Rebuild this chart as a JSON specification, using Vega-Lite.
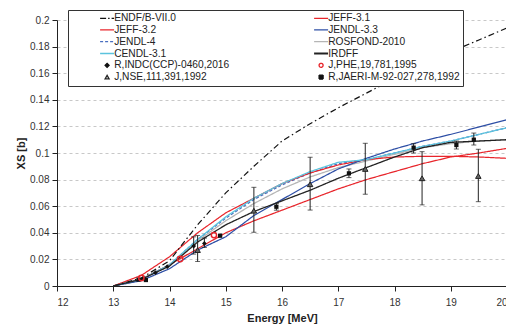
{
  "$schema": "https://vega.github.io/schema/vega-lite/v6.json",
  "width": 450,
  "height": 266,
  "autosize": {"type": "none"},
  "padding": {"left": 57, "top": 20, "right": 0, "bottom": 43},
  "config": {
    "font": "Liberation Sans",
    "view": {"stroke": null},
    "axis": {"domainColor": "#222", "tickColor": "#222", "labelColor": "#333", "labelFontSize": 10, "titleFontSize": 11, "titleFontWeight": "bold", "titleColor": "#222", "tickSize": 5, "labelOverlap": false},
    "axisY": {"values": [0,0.02,0.04,0.06,0.08,0.1,0.12,0.14,0.16,0.18,0.2], "format": "~g", "grid": true, "gridColor": "#c8c8c8", "gridDash": [3,3], "labelPadding": 3, "titlePadding": 3}
  },
  "datasets": {
    "lines": [
      {"s":"JENDL-4","e":13,"v":0},{"s":"JENDL-4","e":13.5,"v":0.005},{"s":"JENDL-4","e":14,"v":0.016},{"s":"JENDL-4","e":14.5,"v":0.035},{"s":"JENDL-4","e":15,"v":0.051},{"s":"JENDL-4","e":15.5,"v":0.065},{"s":"JENDL-4","e":16,"v":0.076},{"s":"JENDL-4","e":16.5,"v":0.085},{"s":"JENDL-4","e":17,"v":0.092},{"s":"JENDL-4","e":17.5,"v":0.095},{"s":"JENDL-4","e":18,"v":0.1},{"s":"JENDL-4","e":18.5,"v":0.105},{"s":"JENDL-4","e":19,"v":0.109},{"s":"JENDL-4","e":19.5,"v":0.114},{"s":"JENDL-4","e":20,"v":0.119},
      {"s":"ROSFOND-2010","e":13,"v":0},{"s":"ROSFOND-2010","e":13.5,"v":0.005},{"s":"ROSFOND-2010","e":14,"v":0.016},{"s":"ROSFOND-2010","e":14.5,"v":0.034},{"s":"ROSFOND-2010","e":15,"v":0.049},{"s":"ROSFOND-2010","e":15.5,"v":0.062},{"s":"ROSFOND-2010","e":16,"v":0.073},{"s":"ROSFOND-2010","e":16.5,"v":0.082},{"s":"ROSFOND-2010","e":17,"v":0.089},{"s":"ROSFOND-2010","e":17.5,"v":0.094},{"s":"ROSFOND-2010","e":18,"v":0.099},{"s":"ROSFOND-2010","e":18.5,"v":0.104},{"s":"ROSFOND-2010","e":19,"v":0.107},{"s":"ROSFOND-2010","e":19.5,"v":0.109},{"s":"ROSFOND-2010","e":20,"v":0.11},
      {"s":"JEFF-3.2","e":13,"v":0},{"s":"JEFF-3.2","e":13.5,"v":0.005},{"s":"JEFF-3.2","e":14,"v":0.016},{"s":"JEFF-3.2","e":14.5,"v":0.028},{"s":"JEFF-3.2","e":15,"v":0.04},{"s":"JEFF-3.2","e":15.5,"v":0.049},{"s":"JEFF-3.2","e":16,"v":0.057},{"s":"JEFF-3.2","e":16.5,"v":0.065},{"s":"JEFF-3.2","e":17,"v":0.073},{"s":"JEFF-3.2","e":17.5,"v":0.08},{"s":"JEFF-3.2","e":18,"v":0.086},{"s":"JEFF-3.2","e":18.5,"v":0.092},{"s":"JEFF-3.2","e":19,"v":0.097},{"s":"JEFF-3.2","e":19.5,"v":0.1},{"s":"JEFF-3.2","e":20,"v":0.1035},
      {"s":"JEFF-3.1","e":13,"v":0},{"s":"JEFF-3.1","e":13.5,"v":0.008},{"s":"JEFF-3.1","e":14,"v":0.022},{"s":"JEFF-3.1","e":14.5,"v":0.04},{"s":"JEFF-3.1","e":15,"v":0.055},{"s":"JEFF-3.1","e":15.5,"v":0.066},{"s":"JEFF-3.1","e":16,"v":0.077},{"s":"JEFF-3.1","e":16.5,"v":0.085},{"s":"JEFF-3.1","e":17,"v":0.091},{"s":"JEFF-3.1","e":17.5,"v":0.095},{"s":"JEFF-3.1","e":18,"v":0.097},{"s":"JEFF-3.1","e":18.5,"v":0.0975},{"s":"JEFF-3.1","e":19,"v":0.0975},{"s":"JEFF-3.1","e":19.5,"v":0.097},{"s":"JEFF-3.1","e":20,"v":0.096},
      {"s":"JENDL-3.3","e":13,"v":0},{"s":"JENDL-3.3","e":13.5,"v":0.004},{"s":"JENDL-3.3","e":14,"v":0.013},{"s":"JENDL-3.3","e":14.5,"v":0.027},{"s":"JENDL-3.3","e":15,"v":0.037},{"s":"JENDL-3.3","e":15.5,"v":0.053},{"s":"JENDL-3.3","e":16,"v":0.065},{"s":"JENDL-3.3","e":16.5,"v":0.077},{"s":"JENDL-3.3","e":17,"v":0.088},{"s":"JENDL-3.3","e":17.5,"v":0.096},{"s":"JENDL-3.3","e":18,"v":0.103},{"s":"JENDL-3.3","e":18.5,"v":0.109},{"s":"JENDL-3.3","e":19,"v":0.114},{"s":"JENDL-3.3","e":19.5,"v":0.1195},{"s":"JENDL-3.3","e":20,"v":0.125},
      {"s":"CENDL-3.1","e":13,"v":0},{"s":"CENDL-3.1","e":13.5,"v":0.005},{"s":"CENDL-3.1","e":14,"v":0.016},{"s":"CENDL-3.1","e":14.5,"v":0.035},{"s":"CENDL-3.1","e":15,"v":0.052},{"s":"CENDL-3.1","e":15.5,"v":0.066},{"s":"CENDL-3.1","e":16,"v":0.077},{"s":"CENDL-3.1","e":16.5,"v":0.086},{"s":"CENDL-3.1","e":17,"v":0.093},{"s":"CENDL-3.1","e":17.5,"v":0.095},{"s":"CENDL-3.1","e":18,"v":0.1},{"s":"CENDL-3.1","e":18.5,"v":0.105},{"s":"CENDL-3.1","e":19,"v":0.109},{"s":"CENDL-3.1","e":19.5,"v":0.114},{"s":"CENDL-3.1","e":20,"v":0.119},
      {"s":"ENDF/B-VII.0","e":13,"v":0},{"s":"ENDF/B-VII.0","e":13.5,"v":0.006},{"s":"ENDF/B-VII.0","e":14,"v":0.019},{"s":"ENDF/B-VII.0","e":14.5,"v":0.046},{"s":"ENDF/B-VII.0","e":15,"v":0.07},{"s":"ENDF/B-VII.0","e":15.5,"v":0.09},{"s":"ENDF/B-VII.0","e":16,"v":0.109},{"s":"ENDF/B-VII.0","e":16.5,"v":0.122},{"s":"ENDF/B-VII.0","e":17,"v":0.134},{"s":"ENDF/B-VII.0","e":17.5,"v":0.145},{"s":"ENDF/B-VII.0","e":18,"v":0.156},{"s":"ENDF/B-VII.0","e":18.5,"v":0.166},{"s":"ENDF/B-VII.0","e":19,"v":0.176},{"s":"ENDF/B-VII.0","e":19.5,"v":0.185},{"s":"ENDF/B-VII.0","e":20,"v":0.194},
      {"s":"IRDFF","e":13,"v":0},{"s":"IRDFF","e":13.5,"v":0.005},{"s":"IRDFF","e":14,"v":0.015},{"s":"IRDFF","e":14.5,"v":0.033},{"s":"IRDFF","e":15,"v":0.046},{"s":"IRDFF","e":15.5,"v":0.056},{"s":"IRDFF","e":16,"v":0.064},{"s":"IRDFF","e":16.5,"v":0.072},{"s":"IRDFF","e":17,"v":0.081},{"s":"IRDFF","e":17.5,"v":0.089},{"s":"IRDFF","e":18,"v":0.097},{"s":"IRDFF","e":18.5,"v":0.104},{"s":"IRDFF","e":19,"v":0.108},{"s":"IRDFF","e":19.5,"v":0.109},{"s":"IRDFF","e":20,"v":0.11}
    ],
    "pts": [
      {"s":"INDC","e":13.52,"v":0.0055},{"s":"INDC","e":13.75,"v":0.01},{"s":"INDC","e":13.96,"v":0.0145},{"s":"INDC","e":14.43,"v":0.03,"lo":0.024,"hi":0.037},{"s":"INDC","e":14.62,"v":0.032,"lo":0.029,"hi":0.036},
      {"s":"PHE","e":13.5,"v":0.006},{"s":"PHE","e":14.19,"v":0.0203},{"s":"PHE","e":14.79,"v":0.0383},
      {"s":"NSE","e":14.5,"v":0.027,"lo":0.0184,"hi":0.038},{"s":"NSE","e":15.5,"v":0.0566,"lo":0.0404,"hi":0.0742},{"s":"NSE","e":16.5,"v":0.0765,"lo":0.0571,"hi":0.0968},{"s":"NSE","e":17.48,"v":0.088,"lo":0.069,"hi":0.1073},{"s":"NSE","e":18.49,"v":0.081,"lo":0.061,"hi":0.101},{"s":"NSE","e":19.49,"v":0.0827,"lo":0.0634,"hi":0.1028},
      {"s":"JAERI","e":13.45,"v":0.0048},{"s":"JAERI","e":13.58,"v":0.0045},{"s":"JAERI","e":14.9,"v":0.0378},{"s":"JAERI","e":15.9,"v":0.0596,"lo":0.057,"hi":0.062},{"s":"JAERI","e":17.19,"v":0.0847,"lo":0.0815,"hi":0.088},{"s":"JAERI","e":18.34,"v":0.104,"lo":0.1,"hi":0.107},{"s":"JAERI","e":19.1,"v":0.106,"lo":0.103,"hi":0.109},{"s":"JAERI","e":19.41,"v":0.11,"lo":0.106,"hi":0.115}
    ]
  },
  "layer": [
    {
      "data": {"name": "lines"},
      "mark": {"type": "line", "clip": true},
      "encoding": {
        "x": {"field": "e", "type": "quantitative", "scale": {"domain": [12, 20], "nice": false},
              "axis": {"title": "Energy [MeV]", "values": [12,13,14,15,16,17,18,19,20], "format": "d", "grid": false, "labelOverlap": false, "labelPadding": 6, "titlePadding": 5}},
        "y": {"field": "v", "type": "quantitative", "scale": {"domain": [0, 0.2], "nice": false},
              "axis": {"title": "XS [b]"}},
        "color": {"field": "s", "type": "nominal",
          "scale": {
            "domain": ["ENDF/B-VII.0","JEFF-3.2","JENDL-4","CENDL-3.1","R,INDC(CCP)-0460,2016","J,NSE,111,391,1992","JEFF-3.1","JENDL-3.3","ROSFOND-2010","IRDFF","J,PHE,19,781,1995","R,JAERI-M-92-027,278,1992"],
            "range": ["#111111","#e8252b","#4a6fc0","#5bc3dd","#111111","#222222","#e8252b","#2d4ea5","#b5b5b5","#222222","#e8252b","#111111"]
          },
          "legend": {
            "orient": "none", "legendX": 11, "legendY": -10, "columns": 2, "direction": "vertical",
            "title": " ", "titleOrient": "left", "titlePadding": 31, "titleFontSize": 10,
            "padding": 3, "fillColor": "white", "strokeColor": "#333",
            "symbolSize": 196, "symbolStrokeWidth": 1.3, "labelFontSize": 10.2, "labelColor": "#222", "labelOffset": 2,
            "rowPadding": 0.8, "columnPadding": 80, "labelLimit": 300,
            "labelExpr": "datum.label == 'R,JAERI-M-92-027,278,1992' ? datum.label + '           ' : datum.label",
            "encode": {"symbols": {"update": {
              "shape": {"signal": "{'R,INDC(CCP)-0460,2016':'diamond','J,PHE,19,781,1995':'circle','J,NSE,111,391,1992':'triangle-up','R,JAERI-M-92-027,278,1992':'square'}[datum.value] || 'stroke'"},
              "size": {"signal": "indexof(['R,INDC(CCP)-0460,2016','J,PHE,19,781,1995','J,NSE,111,391,1992','R,JAERI-M-92-027,278,1992'], datum.value) >= 0 ? 16 : 196"},
              "stroke": {"signal": "{'ENDF/B-VII.0':'#111','JEFF-3.1':'#e8252b','JEFF-3.2':'#e8252b','JENDL-3.3':'#2d4ea5','JENDL-4':'#4a6fc0','ROSFOND-2010':'#b5b5b5','CENDL-3.1':'#5bc3dd','IRDFF':'#222','R,INDC(CCP)-0460,2016':'#111','J,PHE,19,781,1995':'#e8252b','J,NSE,111,391,1992':'#222','R,JAERI-M-92-027,278,1992':'#111'}[datum.value]"},
              "fill": {"signal": "datum.value == 'R,INDC(CCP)-0460,2016' || datum.value == 'R,JAERI-M-92-027,278,1992' ? '#111' : 'transparent'"},
              "strokeDash": {"signal": "datum.value == 'ENDF/B-VII.0' ? [6,2,1.5,2] : datum.value == 'JENDL-4' ? [3,2] : [1,0]"},
              "strokeWidth": {"signal": "datum.value == 'IRDFF' ? 2 : 1.3"},
              "opacity": {"value": 1}
            }}}
          }
        },
        "strokeDash": {"field": "s", "type": "nominal", "legend": null,
          "scale": {"domain": ["ENDF/B-VII.0","JEFF-3.1","JEFF-3.2","JENDL-3.3","JENDL-4","ROSFOND-2010","CENDL-3.1","IRDFF"],
                    "range": [[6,3,1.5,3],[1,0],[1,0],[1,0],[3,2],[1,0],[1,0],[1,0]]}},
        "strokeWidth": {"field": "s", "type": "nominal", "legend": null,
          "scale": {"domain": ["ENDF/B-VII.0","JEFF-3.1","JEFF-3.2","JENDL-3.3","JENDL-4","ROSFOND-2010","CENDL-3.1","IRDFF"],
                    "range": [1.2,1.3,1.3,1.3,1.2,1.3,1.3,2]}}
      }
    },
    {
      "data": {"name": "pts"},
      "transform": [{"filter": "isValid(datum.lo)"}],
      "mark": {"type": "rule", "color": "#222", "strokeWidth": 1},
      "encoding": {"x": {"field": "e", "type": "quantitative"}, "y": {"field": "lo", "type": "quantitative"}, "y2": {"field": "hi"}}
    },
    {
      "data": {"name": "pts"},
      "transform": [{"filter": "isValid(datum.lo)"}],
      "mark": {"type": "tick", "orient": "horizontal", "color": "#222", "size": 5, "thickness": 1},
      "encoding": {"x": {"field": "e", "type": "quantitative"}, "y": {"field": "lo", "type": "quantitative"}}
    },
    {
      "data": {"name": "pts"},
      "transform": [{"filter": "isValid(datum.hi)"}],
      "mark": {"type": "tick", "orient": "horizontal", "color": "#222", "size": 5, "thickness": 1},
      "encoding": {"x": {"field": "e", "type": "quantitative"}, "y": {"field": "hi", "type": "quantitative"}}
    },
    {
      "data": {"name": "pts"},
      "transform": [{"filter": "datum.s == 'NSE'"}],
      "mark": {"type": "point", "shape": "triangle-up", "filled": false, "stroke": "#222", "fill": "#666", "fillOpacity": 1, "size": 30, "strokeWidth": 1},
      "encoding": {"x": {"field": "e", "type": "quantitative"}, "y": {"field": "v", "type": "quantitative"}}
    },
    {
      "data": {"name": "pts"},
      "transform": [{"filter": "datum.s == 'JAERI'"}],
      "mark": {"type": "point", "shape": "square", "filled": true, "color": "#111", "size": 18, "opacity": 1},
      "encoding": {"x": {"field": "e", "type": "quantitative"}, "y": {"field": "v", "type": "quantitative"}}
    },
    {
      "data": {"name": "pts"},
      "transform": [{"filter": "datum.s == 'INDC'"}],
      "mark": {"type": "point", "shape": "diamond", "filled": true, "color": "#111", "size": 22, "opacity": 1},
      "encoding": {"x": {"field": "e", "type": "quantitative"}, "y": {"field": "v", "type": "quantitative"}}
    },
    {
      "data": {"name": "pts"},
      "transform": [{"filter": "datum.s == 'PHE'"}],
      "mark": {"type": "point", "shape": "circle", "filled": false, "color": "#e8252b", "size": 28, "strokeWidth": 1.5, "opacity": 1},
      "encoding": {"x": {"field": "e", "type": "quantitative"}, "y": {"field": "v", "type": "quantitative"}}
    }
  ]
}
